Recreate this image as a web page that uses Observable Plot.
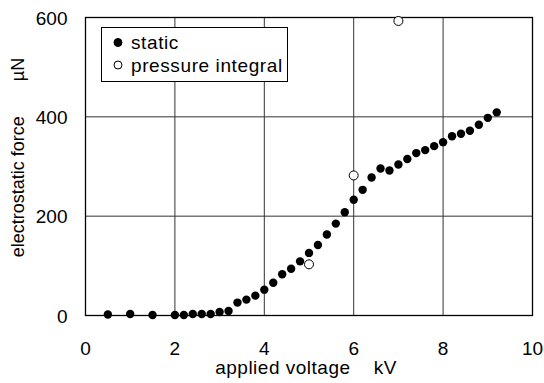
<!DOCTYPE html>
<html>
<head>
<meta charset="utf-8">
<script src="https://cdn.jsdelivr.net/npm/d3@7"></script>
<script src="https://cdn.jsdelivr.net/npm/@observablehq/plot@0.6"></script>
<style>
  body { margin: 0; background: white; }
  #wrap { position: relative; width: 544px; height: 383px; }
  #legend { position: absolute; left: 101px; top: 27px; }
</style>
</head>
<body>
<div id="wrap"></div>
<script>
// data
const staticVoltage = [0.5, 1.0, 1.5, 2.0, 2.2, 2.4, 2.6, 2.8, 3.0, 3.2, 3.4, 3.6, 3.8, 4.0, 4.2, 4.4, 4.6, 4.8, 5.0, 5.2, 5.4, 5.6, 5.8, 6.0, 6.2, 6.4, 6.6, 6.8, 7.0, 7.2, 7.4, 7.6, 7.8, 8.0, 8.2, 8.4, 8.6, 8.8, 9.0, 9.2];
const staticForce = [2, 3, 1, 1, 1, 3, 3, 3, 7, 9, 26, 32, 40, 52, 66, 83, 94, 109, 126, 142, 163, 185, 208, 233, 253, 278, 296, 292, 304, 315, 327, 333, 341, 349, 361, 366, 372, 384, 398, 409];
const pressureVoltage = [5.0, 6.0, 7.0];
const pressureForce = [103, 282, 593];
const xTicks = [0, 2, 4, 6, 8, 10];
const yTicks = [0, 200, 400, 600];
const xGrid = [2, 4, 6, 8];
const yGrid = [200, 400];
const seriesNames = ["static", "pressure integral"];
const xLabel = "applied voltage\u00a0\u00a0\u00a0\u00a0kV";
const yLabel = "electrostatic force\u00a0\u00a0\u00a0\u00a0\u00a0\u00a0\u00a0µN";

const staticData = staticVoltage.map((v, i) => ({x: v, y: staticForce[i]}));
const pressureData = pressureVoltage.map((v, i) => ({x: v, y: pressureForce[i]}));

const font = "'Liberation Sans', Arial, Helvetica, sans-serif";

const chart = Plot.plot({
  width: 544,
  height: 383,
  marginLeft: 85,
  marginRight: 12,
  marginTop: 17,
  marginBottom: 68,
  style: {fontFamily: font, fontSize: "19px", background: "white", color: "black"},
  x: {domain: [0, 10]},
  y: {domain: [0, 600]},
  marks: [
    Plot.gridX(xGrid, {stroke: "#333", strokeOpacity: 1, strokeWidth: 1}),
    Plot.gridY(yGrid, {stroke: "#333", strokeOpacity: 1, strokeWidth: 1}),
    Plot.frame({stroke: "black", strokeWidth: 1.3}),
    Plot.axisX(xTicks, {tickSize: 0, tickPadding: 26, label: null, fontSize: 19}),
    Plot.axisY(yTicks, {tickSize: 0, tickPadding: 18, label: null, fontSize: 19, dy: 1}),
    Plot.dot(staticData, {x: "x", y: "y", r: 4.2, fill: "black", stroke: "none"}),
    Plot.dot(pressureData, {x: "x", y: "y", r: 4.5, fill: "white", stroke: "black", strokeWidth: 1}),
    Plot.text([xLabel], {text: d => d, frameAnchor: "bottom", textAnchor: "middle", dy: 58, dx: -3, fontSize: 19}),
    Plot.text([yLabel], {text: d => d, frameAnchor: "left", textAnchor: "middle", rotate: -90, dx: -67, dy: -9, fontSize: 18})
  ]
});
document.getElementById("wrap").appendChild(chart);
// slight horizontal letter spacing on the x label, as in the reference
d3.select(chart).selectAll("text").filter(function() { return this.textContent === xLabel; })
  .style("letter-spacing", "0.5px");

// legend
const lg = d3.select("#wrap").append("svg")
  .attr("id", "legend")
  .attr("width", 188).attr("height", 56)
  .style("font-family", font).style("font-size", "19px");
lg.append("rect").attr("x", 0.5).attr("y", 0.5).attr("width", 186).attr("height", 54)
  .attr("fill", "white").attr("stroke", "black");
const rows = [
  {name: seriesNames[0], fill: "black", r: 4},
  {name: seriesNames[1], fill: "white", r: 4}
];
rows.forEach((d, i) => {
  const cy = 15.5 + i * 22.5;
  lg.append("circle").attr("cx", 17).attr("cy", cy).attr("r", d.r)
    .attr("fill", d.fill).attr("stroke", "black").attr("stroke-width", 1);
  lg.append("text").attr("x", 30).attr("y", cy).attr("dy", "0.35em")
    .style("letter-spacing", "0.6px")
    .attr("fill", "black").text(d.name);
});
</script>
</body>
</html>
